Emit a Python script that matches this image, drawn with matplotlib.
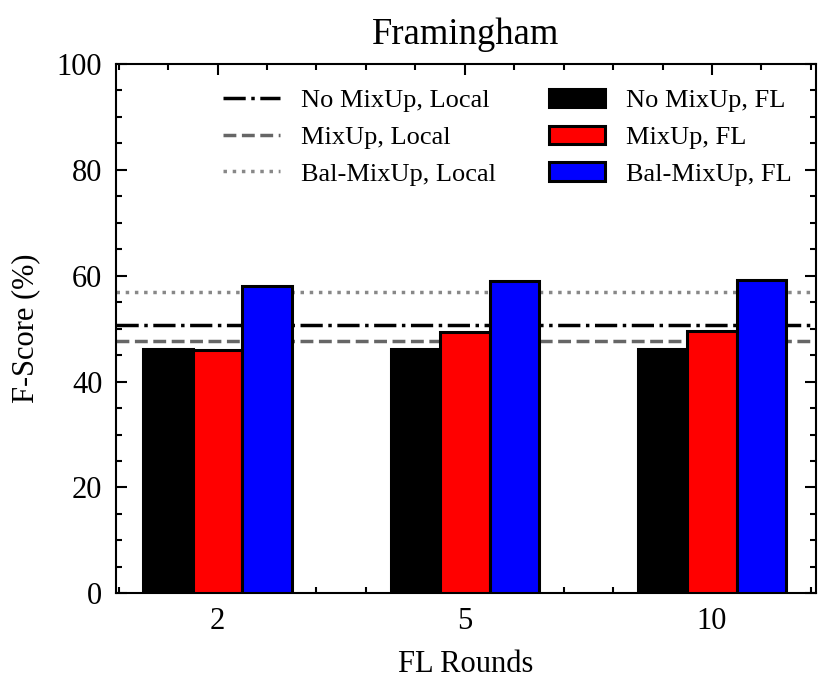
import numpy as np
import matplotlib
matplotlib.use("Agg")
import matplotlib.pyplot as plt
from matplotlib.ticker import AutoMinorLocator, MultipleLocator

rounds = ["2", "5", "10"]
no_mixup_fl = [46.2, 46.2, 46.2]
mixup_fl = [45.9, 49.4, 49.5]
bal_mixup_fl = [58.1, 59.0, 59.2]
no_mixup_local = 50.7
mixup_local = 47.6
bal_mixup_local = 56.9

plt.rcParams['font.family'] = ['Liberation Serif', 'DejaVu Serif']
plt.rcParams['font.size'] = 22

fig, ax = plt.subplots(figsize=(8.3, 6.86), dpi=100)
x = np.arange(len(rounds))
w = 0.2

l1 = ax.axhline(no_mixup_local, color="black", ls="-.", lw=2.5, zorder=1)
l2 = ax.axhline(mixup_local, color="#666666", ls="--", lw=2.5, zorder=1)
l3 = ax.axhline(bal_mixup_local, color="#888888", ls=":", lw=2.5, zorder=1)

b1 = ax.bar(x - w, no_mixup_fl, w, color="black", edgecolor="black", lw=2.2, zorder=3)
b2 = ax.bar(x, mixup_fl, w, color="red", edgecolor="black", lw=2.2, zorder=3)
b3 = ax.bar(x + w, bal_mixup_fl, w, color="blue", edgecolor="black", lw=2.2, zorder=3)

ax.set_xticks(x)
ax.set_xticklabels(rounds)
ax.set_xlim(-0.41, 2.42)
ax.set_ylim(0, 100)
ax.yaxis.set_major_locator(MultipleLocator(20))
ax.yaxis.set_minor_locator(AutoMinorLocator(4))
ax.xaxis.set_minor_locator(AutoMinorLocator(5))
ax.tick_params(which="both", direction="in", top=True, right=True, width=1.5)
ax.tick_params(which="major", length=8, pad=10)
ax.tick_params(which="minor", length=4)
for s in ax.spines.values():
    s.set_linewidth(1.5)

ax.set_xlabel("FL Rounds", labelpad=10)
ax.set_ylabel("F-Score (%)", labelpad=12)
ax.set_title("Framingham", pad=14)

ax.legend([l1, l2, l3, b1, b2, b3],
          ["No MixUp, Local", "MixUp, Local", "Bal-MixUp, Local",
           "No MixUp, FL", "MixUp, FL", "Bal-MixUp, FL"],
          ncol=2, frameon=False, fontsize=19, loc="upper right",
          handlelength=2.15, handletextpad=0.8, columnspacing=2.0,
          labelspacing=0.5, borderaxespad=0.55, bbox_to_anchor=(1.002, 1.0))

fig.subplots_adjust(left=0.14, right=0.983, top=0.907, bottom=0.135)
fig.savefig("out.png", dpi=100)
